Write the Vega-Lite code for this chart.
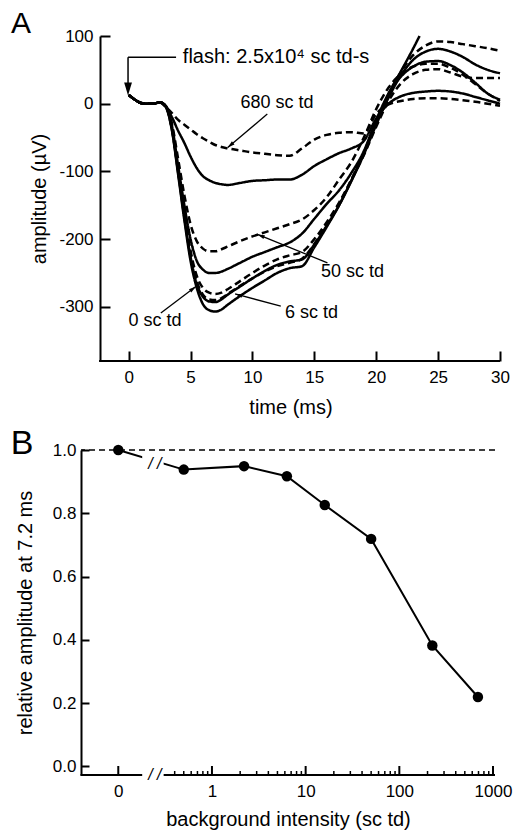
{
"$schema": "https://vega.github.io/schema/vega-lite/v6.json",
"padding": {"left": 10, "top": 9, "right": 5, "bottom": 5},
"config": {
  "font": "Liberation Sans",
  "view": {"stroke": null},
  "axis": {"grid": false, "domainColor": "black", "domainWidth": 2, "tickColor": "black", "tickWidth": 2, "labelColor": "black", "labelFontSize": 17, "labelFont": "Liberation Sans", "titleColor": "black", "titleFont": "Liberation Sans", "titleFontSize": 20, "titleFontWeight": "normal", "labelFlush": false, "labelOverlap": false, "labelBound": false}
},
"datasets": {
"traces": [
{"bg":0,"t":0,"uV":13},{"bg":0,"t":0.5,"uV":6},{"bg":0,"t":1,"uV":1},{"bg":0,"t":1.5,"uV":0},{"bg":0,"t":2,"uV":0},{"bg":0,"t":2.5,"uV":2},{"bg":0,"t":3,"uV":-5},{"bg":0,"t":3.5,"uV":-40},{"bg":0,"t":4,"uV":-105},{"bg":0,"t":4.5,"uV":-172},{"bg":0,"t":5,"uV":-232},{"bg":0,"t":5.5,"uV":-272},{"bg":0,"t":6,"uV":-296},{"bg":0,"t":6.5,"uV":-305},{"bg":0,"t":7,"uV":-307},{"bg":0,"t":7.5,"uV":-304},{"bg":0,"t":8,"uV":-297},{"bg":0,"t":9,"uV":-284},{"bg":0,"t":10,"uV":-272},{"bg":0,"t":11,"uV":-261},{"bg":0,"t":12,"uV":-250},{"bg":0,"t":13,"uV":-243},{"bg":0,"t":14,"uV":-240},{"bg":0,"t":15,"uV":-212},{"bg":0,"t":16,"uV":-182},{"bg":0,"t":17,"uV":-150},{"bg":0,"t":18,"uV":-113},{"bg":0,"t":19,"uV":-72},{"bg":0,"t":20,"uV":-28},{"bg":0,"t":21,"uV":15},{"bg":0,"t":22,"uV":48},{"bg":0,"t":23,"uV":82},{"bg":0,"t":23.5,"uV":100},
{"bg":0.5,"t":0,"uV":13},{"bg":0.5,"t":0.5,"uV":6},{"bg":0.5,"t":1,"uV":1},{"bg":0.5,"t":1.5,"uV":0},{"bg":0.5,"t":2,"uV":0},{"bg":0.5,"t":2.5,"uV":2},{"bg":0.5,"t":3,"uV":-4},{"bg":0.5,"t":3.5,"uV":-38},{"bg":0.5,"t":4,"uV":-100},{"bg":0.5,"t":4.5,"uV":-165},{"bg":0.5,"t":5,"uV":-222},{"bg":0.5,"t":5.5,"uV":-262},{"bg":0.5,"t":6,"uV":-282},{"bg":0.5,"t":6.5,"uV":-289},{"bg":0.5,"t":7,"uV":-290},{"bg":0.5,"t":7.5,"uV":-287},{"bg":0.5,"t":8,"uV":-281},{"bg":0.5,"t":9,"uV":-269},{"bg":0.5,"t":10,"uV":-258},{"bg":0.5,"t":11,"uV":-248},{"bg":0.5,"t":12,"uV":-240},{"bg":0.5,"t":13,"uV":-235},{"bg":0.5,"t":14,"uV":-229},{"bg":0.5,"t":15,"uV":-207},{"bg":0.5,"t":16,"uV":-178},{"bg":0.5,"t":17,"uV":-148},{"bg":0.5,"t":18,"uV":-112},{"bg":0.5,"t":19,"uV":-72},{"bg":0.5,"t":20,"uV":-27},{"bg":0.5,"t":21,"uV":13},{"bg":0.5,"t":22,"uV":47},{"bg":0.5,"t":23,"uV":72},{"bg":0.5,"t":24,"uV":86},{"bg":0.5,"t":25,"uV":92},{"bg":0.5,"t":26,"uV":91},{"bg":0.5,"t":27,"uV":88},{"bg":0.5,"t":28,"uV":85},{"bg":0.5,"t":29,"uV":82},{"bg":0.5,"t":30,"uV":78},
{"bg":2.2,"t":0,"uV":13},{"bg":2.2,"t":0.5,"uV":6},{"bg":2.2,"t":1,"uV":1},{"bg":2.2,"t":1.5,"uV":0},{"bg":2.2,"t":2,"uV":0},{"bg":2.2,"t":2.5,"uV":2},{"bg":2.2,"t":3,"uV":-4},{"bg":2.2,"t":3.5,"uV":-38},{"bg":2.2,"t":4,"uV":-102},{"bg":2.2,"t":4.5,"uV":-168},{"bg":2.2,"t":5,"uV":-226},{"bg":2.2,"t":5.5,"uV":-266},{"bg":2.2,"t":6,"uV":-285},{"bg":2.2,"t":6.5,"uV":-292},{"bg":2.2,"t":7,"uV":-293},{"bg":2.2,"t":7.5,"uV":-289},{"bg":2.2,"t":8,"uV":-282},{"bg":2.2,"t":9,"uV":-270},{"bg":2.2,"t":10,"uV":-258},{"bg":2.2,"t":11,"uV":-247},{"bg":2.2,"t":12,"uV":-238},{"bg":2.2,"t":13,"uV":-233},{"bg":2.2,"t":14,"uV":-230},{"bg":2.2,"t":15,"uV":-208},{"bg":2.2,"t":16,"uV":-180},{"bg":2.2,"t":17,"uV":-150},{"bg":2.2,"t":18,"uV":-114},{"bg":2.2,"t":19,"uV":-75},{"bg":2.2,"t":20,"uV":-31},{"bg":2.2,"t":21,"uV":9},{"bg":2.2,"t":22,"uV":42},{"bg":2.2,"t":23,"uV":65},{"bg":2.2,"t":24,"uV":77},{"bg":2.2,"t":25,"uV":81},{"bg":2.2,"t":26,"uV":77},{"bg":2.2,"t":27,"uV":69},{"bg":2.2,"t":28,"uV":58},{"bg":2.2,"t":29,"uV":50},{"bg":2.2,"t":30,"uV":45},
{"bg":6,"t":0,"uV":13},{"bg":6,"t":0.5,"uV":6},{"bg":6,"t":1,"uV":1},{"bg":6,"t":1.5,"uV":0},{"bg":6,"t":2,"uV":0},{"bg":6,"t":2.5,"uV":2},{"bg":6,"t":3,"uV":-3},{"bg":6,"t":3.5,"uV":-35},{"bg":6,"t":4,"uV":-97},{"bg":6,"t":4.5,"uV":-160},{"bg":6,"t":5,"uV":-217},{"bg":6,"t":5.5,"uV":-254},{"bg":6,"t":6,"uV":-272},{"bg":6,"t":6.5,"uV":-279},{"bg":6,"t":7,"uV":-281},{"bg":6,"t":7.5,"uV":-279},{"bg":6,"t":8,"uV":-274},{"bg":6,"t":9,"uV":-262},{"bg":6,"t":10,"uV":-250},{"bg":6,"t":11,"uV":-239},{"bg":6,"t":12,"uV":-230},{"bg":6,"t":13,"uV":-224},{"bg":6,"t":14,"uV":-219},{"bg":6,"t":15,"uV":-200},{"bg":6,"t":16,"uV":-175},{"bg":6,"t":17,"uV":-146},{"bg":6,"t":18,"uV":-112},{"bg":6,"t":19,"uV":-76},{"bg":6,"t":20,"uV":-34},{"bg":6,"t":21,"uV":4},{"bg":6,"t":22,"uV":30},{"bg":6,"t":23,"uV":44},{"bg":6,"t":24,"uV":50},{"bg":6,"t":25,"uV":51},{"bg":6,"t":26,"uV":46},{"bg":6,"t":27,"uV":40},{"bg":6,"t":28,"uV":38},{"bg":6,"t":29,"uV":38},{"bg":6,"t":30,"uV":38},
{"bg":16,"t":0,"uV":13},{"bg":16,"t":0.5,"uV":6},{"bg":16,"t":1,"uV":1},{"bg":16,"t":1.5,"uV":0},{"bg":16,"t":2,"uV":0},{"bg":16,"t":2.5,"uV":2},{"bg":16,"t":3,"uV":-3},{"bg":16,"t":3.5,"uV":-33},{"bg":16,"t":4,"uV":-92},{"bg":16,"t":4.5,"uV":-150},{"bg":16,"t":5,"uV":-200},{"bg":16,"t":5.5,"uV":-232},{"bg":16,"t":6,"uV":-245},{"bg":16,"t":6.5,"uV":-250},{"bg":16,"t":7,"uV":-250},{"bg":16,"t":7.5,"uV":-248},{"bg":16,"t":8,"uV":-244},{"bg":16,"t":9,"uV":-235},{"bg":16,"t":10,"uV":-226},{"bg":16,"t":11,"uV":-219},{"bg":16,"t":12,"uV":-212},{"bg":16,"t":13,"uV":-205},{"bg":16,"t":14,"uV":-192},{"bg":16,"t":15,"uV":-170},{"bg":16,"t":16,"uV":-148},{"bg":16,"t":17,"uV":-128},{"bg":16,"t":18,"uV":-102},{"bg":16,"t":19,"uV":-70},{"bg":16,"t":20,"uV":-24},{"bg":16,"t":21,"uV":15},{"bg":16,"t":22,"uV":40},{"bg":16,"t":23,"uV":55},{"bg":16,"t":24,"uV":62},{"bg":16,"t":25,"uV":63},{"bg":16,"t":26,"uV":57},{"bg":16,"t":27,"uV":46},{"bg":16,"t":28,"uV":31},{"bg":16,"t":29,"uV":15},{"bg":16,"t":30,"uV":6},
{"bg":50,"t":0,"uV":13},{"bg":50,"t":0.5,"uV":6},{"bg":50,"t":1,"uV":1},{"bg":50,"t":1.5,"uV":0},{"bg":50,"t":2,"uV":0},{"bg":50,"t":2.5,"uV":2},{"bg":50,"t":3,"uV":-3},{"bg":50,"t":3.5,"uV":-30},{"bg":50,"t":4,"uV":-82},{"bg":50,"t":4.5,"uV":-135},{"bg":50,"t":5,"uV":-178},{"bg":50,"t":5.5,"uV":-203},{"bg":50,"t":6,"uV":-214},{"bg":50,"t":6.5,"uV":-218},{"bg":50,"t":7,"uV":-218},{"bg":50,"t":7.5,"uV":-215},{"bg":50,"t":8,"uV":-211},{"bg":50,"t":9,"uV":-203},{"bg":50,"t":10,"uV":-196},{"bg":50,"t":11,"uV":-190},{"bg":50,"t":12,"uV":-184},{"bg":50,"t":13,"uV":-178},{"bg":50,"t":14,"uV":-171},{"bg":50,"t":15,"uV":-157},{"bg":50,"t":16,"uV":-138},{"bg":50,"t":17,"uV":-112},{"bg":50,"t":18,"uV":-86},{"bg":50,"t":19,"uV":-50},{"bg":50,"t":20,"uV":-8},{"bg":50,"t":21,"uV":24},{"bg":50,"t":22,"uV":44},{"bg":50,"t":23,"uV":55},{"bg":50,"t":24,"uV":59},{"bg":50,"t":25,"uV":59},{"bg":50,"t":26,"uV":53},{"bg":50,"t":27,"uV":43},{"bg":50,"t":28,"uV":29},{"bg":50,"t":29,"uV":15},{"bg":50,"t":30,"uV":4},
{"bg":220,"t":0,"uV":13},{"bg":220,"t":0.5,"uV":6},{"bg":220,"t":1,"uV":1},{"bg":220,"t":1.5,"uV":0},{"bg":220,"t":2,"uV":0},{"bg":220,"t":2.5,"uV":2},{"bg":220,"t":3,"uV":-4},{"bg":220,"t":3.5,"uV":-20},{"bg":220,"t":4,"uV":-40},{"bg":220,"t":4.5,"uV":-58},{"bg":220,"t":5,"uV":-78},{"bg":220,"t":5.5,"uV":-95},{"bg":220,"t":6,"uV":-107},{"bg":220,"t":6.5,"uV":-113},{"bg":220,"t":7,"uV":-117},{"bg":220,"t":7.5,"uV":-119},{"bg":220,"t":8,"uV":-120},{"bg":220,"t":9,"uV":-117},{"bg":220,"t":10,"uV":-114},{"bg":220,"t":11,"uV":-113},{"bg":220,"t":12,"uV":-112},{"bg":220,"t":13,"uV":-112},{"bg":220,"t":14,"uV":-105},{"bg":220,"t":15,"uV":-92},{"bg":220,"t":16,"uV":-82},{"bg":220,"t":17,"uV":-73},{"bg":220,"t":18,"uV":-66},{"bg":220,"t":19,"uV":-55},{"bg":220,"t":20,"uV":-22},{"bg":220,"t":21,"uV":0},{"bg":220,"t":22,"uV":11},{"bg":220,"t":23,"uV":16},{"bg":220,"t":24,"uV":18},{"bg":220,"t":25,"uV":19},{"bg":220,"t":26,"uV":18},{"bg":220,"t":27,"uV":15},{"bg":220,"t":28,"uV":10},{"bg":220,"t":29,"uV":5},{"bg":220,"t":30,"uV":0},
{"bg":680,"t":0,"uV":13},{"bg":680,"t":0.5,"uV":6},{"bg":680,"t":1,"uV":1},{"bg":680,"t":1.5,"uV":0},{"bg":680,"t":2,"uV":0},{"bg":680,"t":2.5,"uV":2},{"bg":680,"t":3,"uV":-5},{"bg":680,"t":3.5,"uV":-14},{"bg":680,"t":4,"uV":-24},{"bg":680,"t":4.5,"uV":-31},{"bg":680,"t":5,"uV":-38},{"bg":680,"t":5.5,"uV":-45},{"bg":680,"t":6,"uV":-51},{"bg":680,"t":6.5,"uV":-56},{"bg":680,"t":7,"uV":-61},{"bg":680,"t":7.5,"uV":-64},{"bg":680,"t":8,"uV":-66},{"bg":680,"t":9,"uV":-69},{"bg":680,"t":10,"uV":-72},{"bg":680,"t":11,"uV":-74},{"bg":680,"t":12,"uV":-76},{"bg":680,"t":13,"uV":-77},{"bg":680,"t":14,"uV":-66},{"bg":680,"t":15,"uV":-53},{"bg":680,"t":16,"uV":-46},{"bg":680,"t":17,"uV":-43},{"bg":680,"t":18,"uV":-42},{"bg":680,"t":19,"uV":-44},{"bg":680,"t":20,"uV":-15},{"bg":680,"t":21,"uV":-1},{"bg":680,"t":22,"uV":4},{"bg":680,"t":23,"uV":7},{"bg":680,"t":24,"uV":8},{"bg":680,"t":25,"uV":8},{"bg":680,"t":26,"uV":7},{"bg":680,"t":27,"uV":5},{"bg":680,"t":28,"uV":3},{"bg":680,"t":29,"uV":0},{"bg":680,"t":30,"uV":-3}
],
"summary": [
{"bg":0.1,"rel":1.0},{"bg":0.5,"rel":0.938},{"bg":2.2,"rel":0.949},{"bg":6.3,"rel":0.917},{"bg":16,"rel":0.826},{"bg":50,"rel":0.719},{"bg":225,"rel":0.382},{"bg":690,"rel":0.219}
],
"xmajor": [{"v":0.1},{"v":1},{"v":10},{"v":100},{"v":1000}],
"xminor": [{"v":0.4},{"v":0.5},{"v":0.6},{"v":0.7},{"v":0.8},{"v":0.9},{"v":2},{"v":3},{"v":4},{"v":5},{"v":6},{"v":7},{"v":8},{"v":9},{"v":20},{"v":30},{"v":40},{"v":50},{"v":60},{"v":70},{"v":80},{"v":90},{"v":200},{"v":300},{"v":400},{"v":500},{"v":600},{"v":700},{"v":800},{"v":900}]
},
"spacing": 10,
"vconcat": [
{
  "width": 419, "height": 325,
  "layer": [
    {"data": {"name": "traces"},
     "mark": {"type": "line", "interpolate": "monotone", "color": "black", "strokeWidth": 2.5},
     "encoding": {
       "x": {"field": "t", "type": "quantitative", "scale": {"domain": [-3.85, 30], "nice": false, "zero": false},
             "axis": {"values": [0,5,10,15,20,25,30], "tickSize": -10, "labelPadding": 18, "domain": false, "title": "time (ms)", "titlePadding": 12}},
       "y": {"field": "uV", "type": "quantitative", "scale": {"domain": [-380, 100], "nice": false, "zero": false},
             "axis": {"values": [-300,-200,-100,0,100], "tickSize": -10, "labelPadding": 17, "offset": -19, "title": "amplitude (µV)", "titlePadding": 9, "labelExpr": "'' + datum.value"}},
       "strokeDash": {"field": "bg", "type": "nominal", "scale": {"domain": [0,0.5,2.2,6,16,50,220,680], "range": [[1,0],[7,4],[1,0],[7,4],[1,0],[7,4],[1,0],[7,4]]}, "legend": null}
     }},
    {"data": {"values": [{}]}, "mark": {"type": "rule", "color": "black", "strokeWidth": 2},
     "encoding": {"x": {"datum": -2.39}, "x2": {"datum": 30}, "y": {"datum": -380}}},
    {"data": {"values": [{}]}, "mark": {"type": "rule", "color": "black", "strokeWidth": 1.5},
     "encoding": {"x": {"datum": -0.05}, "x2": {"datum": 3.83}, "y": {"datum": 68.6}}},
    {"data": {"values": [{}]}, "mark": {"type": "rule", "color": "black", "strokeWidth": 1.5},
     "encoding": {"x": {"datum": -0.05}, "y": {"datum": 68.6}, "y2": {"datum": 30}}},
    {"data": {"values": [{}]}, "mark": {"type": "point", "shape": "M0,0L-0.6,-2L0.6,-2Z", "size": 169, "filled": true, "color": "black", "opacity": 1},
     "encoding": {"x": {"datum": -0.05}, "y": {"datum": 12}}},
    {"data": {"values": [{}]}, "mark": {"type": "text", "text": "flash: 2.5x10⁴ sc td-s", "fontSize": 20, "align": "left", "baseline": "middle", "color": "black"},
     "encoding": {"x": {"datum": 4.38}, "y": {"datum": 68.6}}},
    {"data": {"values": [{}]}, "mark": {"type": "text", "text": "A", "fontSize": 30, "align": "center", "baseline": "alphabetic", "color": "black"},
     "encoding": {"x": {"datum": -8.7}, "y": {"datum": 103.7}}},
    {"data": {"values": [{}]}, "mark": {"type": "text", "text": "680 sc td", "fontSize": 18, "align": "center", "baseline": "middle", "color": "black"},
     "encoding": {"x": {"datum": 11.98}, "y": {"datum": 0.7}}},
    {"data": {"values": [{}]}, "mark": {"type": "text", "text": "50 sc td", "fontSize": 18, "align": "center", "baseline": "middle", "color": "black"},
     "encoding": {"x": {"datum": 18.08}, "y": {"datum": -248.6}}},
    {"data": {"values": [{}]}, "mark": {"type": "text", "text": "6 sc td", "fontSize": 18, "align": "center", "baseline": "middle", "color": "black"},
     "encoding": {"x": {"datum": 14.78}, "y": {"datum": -309}}},
    {"data": {"values": [{}]}, "mark": {"type": "text", "text": "0 sc td", "fontSize": 18, "align": "center", "baseline": "middle", "color": "black"},
     "encoding": {"x": {"datum": 2.12}, "y": {"datum": -321.5}}},
    {"data": {"values": [{}]}, "mark": {"type": "rule", "color": "black", "strokeWidth": 1.3},
     "encoding": {"x": {"datum": 11.2}, "y": {"datum": -15.3}, "x2": {"datum": 8.0}, "y2": {"datum": -64.7}}},
    {"data": {"values": [{}]}, "mark": {"type": "rule", "color": "black", "strokeWidth": 1.3},
     "encoding": {"x": {"datum": 16.06}, "y": {"datum": -235}, "x2": {"datum": 10.41}, "y2": {"datum": -193}}},
    {"data": {"values": [{}]}, "mark": {"type": "rule", "color": "black", "strokeWidth": 1.3},
     "encoding": {"x": {"datum": 12.29}, "y": {"datum": -299}, "x2": {"datum": 8.6}, "y2": {"datum": -281}}},
    {"data": {"values": [{}]}, "mark": {"type": "rule", "color": "black", "strokeWidth": 1.3},
     "encoding": {"x": {"datum": 2.6}, "y": {"datum": -309}, "x2": {"datum": 5.43}, "y2": {"datum": -270}}},
    {"data": {"values": [{}]}, "mark": {"type": "point", "shape": "M0,0L0.5,1.8L-0.5,1.8Z", "size": 64, "filled": true, "color": "black", "opacity": 1, "angle": 230},
     "encoding": {"x": {"datum": 8.0}, "y": {"datum": -64.7}}},
    {"data": {"values": [{}]}, "mark": {"type": "point", "shape": "M0,0L0.5,1.8L-0.5,1.8Z", "size": 64, "filled": true, "color": "black", "opacity": 1, "angle": 292},
     "encoding": {"x": {"datum": 10.41}, "y": {"datum": -193}}},
    {"data": {"values": [{}]}, "mark": {"type": "point", "shape": "M0,0L0.5,1.8L-0.5,1.8Z", "size": 64, "filled": true, "color": "black", "opacity": 1, "angle": 285},
     "encoding": {"x": {"datum": 8.6}, "y": {"datum": -281}}},
    {"data": {"values": [{}]}, "mark": {"type": "point", "shape": "M0,0L0.5,1.8L-0.5,1.8Z", "size": 64, "filled": true, "color": "black", "opacity": 1, "angle": 53},
     "encoding": {"x": {"datum": 5.43}, "y": {"datum": -270}}}
  ]
},
{
  "width": 414, "height": 325,
  "layer": [
    {"data": {"name": "summary"},
     "mark": {"type": "line", "color": "black", "strokeWidth": 2},
     "encoding": {
       "x": {"field": "bg", "type": "quantitative", "scale": {"type": "log", "domain": [0.04, 1050], "nice": false},
             "axis": {"values": [0.1,1,10,100,1000], "ticks": false, "domain": false,
                      "labelPadding": 8, "title": "background intensity (sc td)", "titlePadding": 10,
                      "labelExpr": "datum.value < 0.5 ? '0' : '' + datum.value"}},
       "y": {"field": "rel", "type": "quantitative", "scale": {"domain": [-0.0275, 1], "nice": false, "zero": false},
             "axis": {"values": [0,0.2,0.4,0.6,0.8,1], "format": ".1f", "tickSize": -8, "labelPadding": 13, "title": "relative amplitude at 7.2 ms", "titlePadding": 17}}
     }},
    {"data": {"values": [{}]}, "mark": {"type": "rect", "color": "white"},
     "encoding": {"x": {"datum": 0.18}, "x2": {"datum": 0.305}, "y": {"datum": 0.945}, "y2": {"datum": 0.995}}},
    {"data": {"values": [{}]}, "mark": {"type": "rule", "color": "black", "strokeWidth": 2},
     "encoding": {"x": {"datum": 0.0395}, "x2": {"datum": 0.18}, "y": {"datum": -0.0275}}},
    {"data": {"values": [{}]}, "mark": {"type": "rule", "color": "black", "strokeWidth": 2},
     "encoding": {"x": {"datum": 0.305}, "x2": {"datum": 1050}, "y": {"datum": -0.0275}}},
    {"data": {"name": "xmajor"}, "mark": {"type": "rule", "color": "black", "strokeWidth": 2},
     "encoding": {"x": {"field": "v", "type": "quantitative"}, "y": {"datum": -0.0275}, "y2": {"datum": 0.001}}},
    {"data": {"name": "xminor"}, "mark": {"type": "rule", "color": "black", "strokeWidth": 1.5},
     "encoding": {"x": {"field": "v", "type": "quantitative"}, "y": {"datum": -0.0275}, "y2": {"datum": -0.0148}}},
    {"data": {"values": [{}]}, "mark": {"type": "rule", "color": "black", "strokeWidth": 1.5, "strokeDash": [6,4]},
     "encoding": {"y": {"datum": 1}}},
    {"data": {"name": "summary"},
     "mark": {"type": "point", "filled": true, "size": 110, "color": "black", "opacity": 1},
     "encoding": {
       "x": {"field": "bg", "type": "quantitative"},
       "y": {"field": "rel", "type": "quantitative"}
     }},
    {"data": {"values": [{}]}, "mark": {"type": "text", "text": "/ /", "fontSize": 16, "fontStyle": "italic", "align": "center", "baseline": "middle", "color": "black"},
     "encoding": {"x": {"datum": 0.246}, "y": {"datum": 0.957}}},
    {"data": {"values": [{}]}, "mark": {"type": "text", "text": "/ /", "fontSize": 16, "fontStyle": "italic", "align": "center", "baseline": "middle", "color": "black"},
     "encoding": {"x": {"datum": 0.246}, "y": {"datum": -0.0275}}},
    {"data": {"values": [{}]}, "mark": {"type": "text", "text": "B", "fontSize": 34, "align": "center", "baseline": "alphabetic", "color": "black"},
     "encoding": {"x": {"datum": 0.0094}, "y": {"datum": 0.987}}}
  ]
}
]
}
